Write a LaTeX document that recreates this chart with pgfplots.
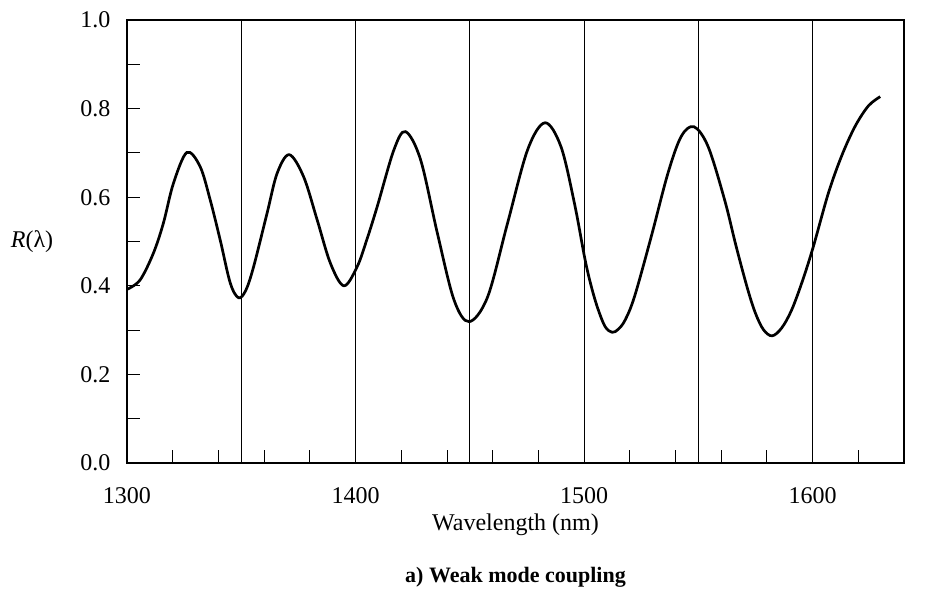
\documentclass[border=0pt]{standalone}
\usepackage{fontspec}
\setmainfont{Liberation Serif}
\usepackage{pgfplots}
\pgfplotsset{compat=1.18}

\begin{document}
\begin{tikzpicture}
\useasboundingbox (-127bp,-126bp) rectangle (799bp,463bp);
\begin{axis}[
  at={(0,0)}, anchor=south west,
  scale only axis, width=777bp, height=443bp,
  xmin=1300, xmax=1640, ymin=0, ymax=1,
  axis line style={line width=1.6bp},
  xtick={1300,1400,1500,1600},
  minor xtick={1320,1340,...,1620},
  ytick={0,0.2,...,1.0},
  minor ytick={0.1,0.3,0.5,0.7,0.9},
  tick align=inside, xtick pos=bottom, ytick pos=left,
  major tick length=13bp, minor tick length=13bp,
  tick style={black, line width=0.8bp},
  /pgf/number format/assume math mode=true,
  yticklabel style={/pgf/number format/fixed, /pgf/number format/fixed zerofill, /pgf/number format/precision=1, xshift=-13bp},
  xticklabel style={/pgf/number format/1000 sep={}, yshift=-21bp},
  ticklabel style={font=\fontsize{24bp}{28bp}\selectfont},
  extra x ticks={1350,1400,1450,1500,1550,1600},
  extra x tick labels={},
  extra x tick style={grid=major, major grid style={black, line width=0.8bp}, major tick length=0pt},
  xlabel={Wavelength (nm)},
  xlabel style={font=\fontsize{24bp}{28bp}\selectfont, at={(axis description cs:0.5,0)}, anchor=center, yshift=-62bp},
  clip=false,
]
\addplot[black, line width=2.7bp, smooth, tension=0.55] coordinates {
 (1300.0,0.392) (1305.7,0.413) (1311.5,0.473) (1315.9,0.541) (1320.3,0.631)
 (1326.2,0.701) (1332.0,0.669) (1336.4,0.594) (1340.8,0.503) (1345.2,0.406)
 (1348.8,0.373) (1352.0,0.390) (1355.4,0.443) (1361.3,0.564) (1365.7,0.654) (1371.0,0.696)
 (1377.3,0.646) (1383.2,0.549) (1389.0,0.451) (1394.9,0.400) (1400.7,0.443)
 (1405.0,0.505) (1409.5,0.579) (1416.8,0.707) (1421.9,0.748) (1428.5,0.684) (1435.8,0.519)
 (1443.1,0.368) (1449.7,0.319) (1457.8,0.375) (1466.5,0.541)
 (1475.3,0.707) (1482.9,0.768) (1489.9,0.714) (1495.8,0.586) (1500.4,0.460)
 (1503.2,0.398) (1506.0,0.349) (1509.2,0.308) (1512.3,0.295) (1515.0,0.302) (1518.0,0.323)
 (1522.1,0.376) (1529.4,0.511) (1536.7,0.654)
 (1542.5,0.737) (1548.1,0.759) (1554.3,0.714) (1561.5,0.594) (1566.5,0.490) (1571.5,0.394)
 (1575.0,0.338) (1578.5,0.301) (1582.3,0.287) (1586.5,0.305) (1590.8,0.345) (1595.5,0.410)
 (1600.3,0.488) (1606.9,0.609)
 (1612.7,0.693) (1618.6,0.760) (1624.4,0.806) (1629.6,0.827)
};
\node[font=\fontsize{24bp}{28bp}\selectfont] at (axis description cs:0,0.5) [xshift=-95bp] {\textit{R}(λ)};
\node[font=\fontsize{22bp}{26bp}\selectfont\bfseries] at (axis description cs:0.5,0) [yshift=-114bp] {a) Weak mode coupling};
\end{axis}
\end{tikzpicture}
\end{document}
